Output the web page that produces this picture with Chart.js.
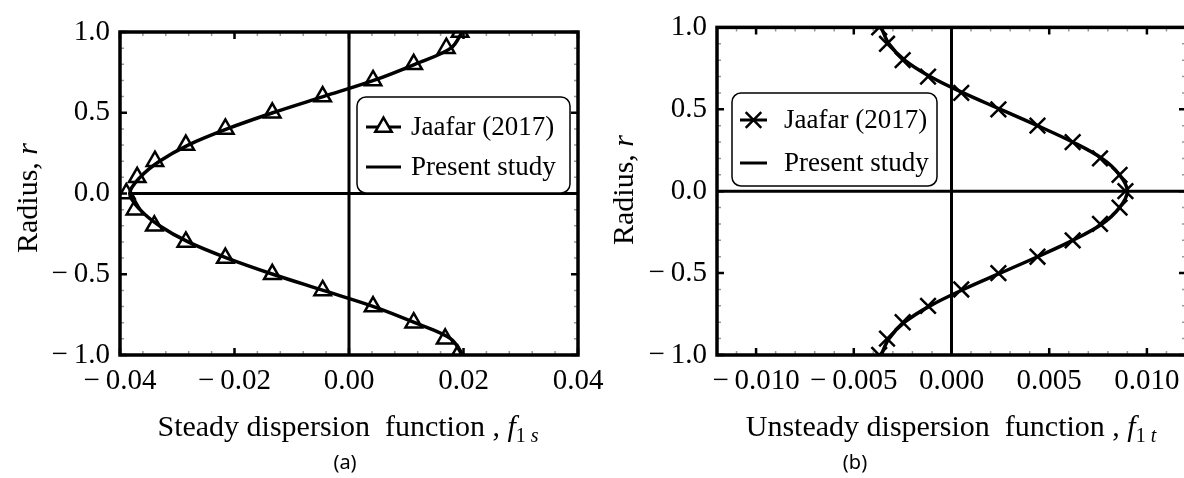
<!DOCTYPE html>
<html>
<head>
<meta charset="utf-8">
<script src="https://cdn.jsdelivr.net/npm/chart.js@4/dist/chart.umd.min.js"></script>
<style>
  html, body { margin:0; padding:0; background:#fff; }
  body { position:relative; width:1184px; height:478px; overflow:hidden; }
  canvas { position:absolute; top:0; }
  .ttl { position:absolute; font-family:'Liberation Serif', serif; font-size:30px; color:#000;
         white-space:pre; text-align:center; line-height:1; transform:translateX(-50%); }
  .ttl i { font-style:italic; }
  .sub { font-size:20px; position:relative; top:6px; }
  .yt { position:absolute; font-family:'Liberation Serif', serif; font-size:30px; color:#000;
        white-space:pre; transform:translate(-50%,-50%) rotate(-90deg); line-height:1; }
  .cap { position:absolute; font-family:'Noto Sans', sans-serif; font-size:20px; color:#000;
         transform:translateX(-50%); }
</style>
</head>
<body>
<canvas id="chartA" width="620" height="478" style="left:0"></canvas>
<canvas id="chartB" width="620" height="478" style="left:590px"></canvas>

<div class="yt" style="left:27px;top:198px">Radius, <i>r</i></div>
<div class="yt" style="left:623px;top:190px">Radius, <i>r</i></div>
<div class="ttl" style="left:348px;top:411px">Steady dispersion  function , <i>f</i><span class="sub">1 <i>s</i></span></div>
<div class="ttl" style="left:951px;top:411px">Unsteady dispersion  function , <i>f</i><span class="sub">1 <i>t</i></span></div>
<div class="cap" style="left:345px;top:448px">(a)</div>
<div class="cap" style="left:855px;top:448px">(b)</div>

<script>
// ── Data ──────────────────────────────────────────────────────
const radius   = [1.0, 0.9, 0.8, 0.7, 0.6, 0.5, 0.4, 0.3, 0.2, 0.1, 0.0,
                  -0.1, -0.2, -0.3, -0.4, -0.5, -0.6, -0.7, -0.8, -0.9, -1.0];

// (a) steady dispersion function f1s
const jaafarA  = [0.0194, 0.0170, 0.0113, 0.0042, -0.0046, -0.0134, -0.0216, -0.0285, -0.0339, -0.0370, -0.0389,
                  -0.0374, -0.0340, -0.0285, -0.0216, -0.0134, -0.0046, 0.0042, 0.0113, 0.0168, 0.0190];
const presentA = [0.0198, 0.0178, 0.0115, 0.0043, -0.0045, -0.0133, -0.0213, -0.0281, -0.0331, -0.0365, -0.0383,
                  -0.0365, -0.0331, -0.0281, -0.0213, -0.0133, -0.0045, 0.0043, 0.0115, 0.0178, 0.0198];

// (b) unsteady dispersion function f1t
const jaafarB  = [-0.0037, -0.0033, -0.0025, -0.0012, 0.0005, 0.0024, 0.0044, 0.0062, 0.0076, 0.0086, 0.0089,
                  0.0086, 0.0076, 0.0062, 0.0044, 0.0024, 0.0005, -0.0012, -0.0025, -0.0033, -0.0037];
const presentB = [-0.0036, -0.0032, -0.0024, -0.0011, 0.0006, 0.0025, 0.0044, 0.0062, 0.0077, 0.0086, 0.0090,
                  0.0086, 0.0077, 0.0062, 0.0044, 0.0025, 0.0006, -0.0011, -0.0024, -0.0032, -0.0036];

const yTicks   = [-1.0, -0.5, 0.0, 0.5, 1.0];
const xTicksA  = [-0.04, -0.02, 0.0, 0.02, 0.04];
const xTicksB  = [-0.010, -0.005, 0.0, 0.005, 0.010];
const legendLabels = ['Jaafar (2017)', 'Present study'];

Chart.defaults.font.family = "'Liberation Serif', serif";
Chart.defaults.color = '#000';

const fmt = d => v => (v < -1e-12 ? '\u2212\u2009' : '') + Math.abs(v).toFixed(d);
const pts = (xs) => xs.map((x, i) => ({ x, y: radius[i] }));

// ── Frame, zero lines, inward ticks, legend box ───────────────
const framePlugin = {
  id: 'frame',
  beforeDatasetsDraw(chart) {
    const { ctx, chartArea: a, scales: { x, y } } = chart;
    ctx.save();
    ctx.strokeStyle = '#000'; ctx.lineWidth = 3;
    ctx.beginPath();
    const x0 = x.getPixelForValue(0), y0 = y.getPixelForValue(0);
    ctx.moveTo(x0, a.top); ctx.lineTo(x0, a.bottom);
    ctx.moveTo(a.left, y0); ctx.lineTo(a.right, y0);
    ctx.stroke();
    ctx.restore();
  },
  afterDatasetsDraw(chart, args, o) {
    const { ctx, chartArea: a, scales: { x, y } } = chart;
    ctx.save();
    // minor ticks
    ctx.strokeStyle = '#999'; ctx.lineWidth = 1.5;
    ctx.beginPath();
    for (let v = x.min; v <= x.max + 1e-9; v += o.xMinor) {
      const px = x.getPixelForValue(v);
      ctx.moveTo(px, a.bottom); ctx.lineTo(px, a.bottom - 4);
      ctx.moveTo(px, a.top);    ctx.lineTo(px, a.top + 4);
    }
    for (let v = -1; v <= 1 + 1e-9; v += 0.1) {
      const py = y.getPixelForValue(v);
      ctx.moveTo(a.left, py);  ctx.lineTo(a.left + 4, py);
      ctx.moveTo(a.right, py); ctx.lineTo(a.right - 4, py);
    }
    ctx.stroke();
    // major ticks
    ctx.strokeStyle = '#000'; ctx.lineWidth = 2.5;
    ctx.beginPath();
    o.xMajor.forEach(v => {
      const px = x.getPixelForValue(v);
      ctx.moveTo(px, a.bottom); ctx.lineTo(px, a.bottom - 7);
      ctx.moveTo(px, a.top);    ctx.lineTo(px, a.top + 7);
    });
    yTicks.forEach(v => {
      const py = y.getPixelForValue(v);
      ctx.moveTo(a.left, py);  ctx.lineTo(a.left + 7, py);
      ctx.moveTo(a.right, py); ctx.lineTo(a.right - 7, py);
    });
    ctx.stroke();
    // frame
    ctx.lineWidth = 3.5;
    ctx.strokeRect(a.left, a.top, a.right - a.left, a.bottom - a.top);

    // legend
    const L = o.legend;
    ctx.fillStyle = '#fff'; ctx.strokeStyle = '#000'; ctx.lineWidth = 1.5;
    ctx.beginPath();
    ctx.roundRect(L.x, L.y, L.w, L.h, 9);
    ctx.fill(); ctx.stroke();
    ctx.font = "27px 'Liberation Serif', serif";
    ctx.textBaseline = 'middle';
    legendLabels.forEach((lab, i) => {
      const cy = L.rows[i];
      ctx.strokeStyle = '#000'; ctx.lineWidth = 3;
      ctx.beginPath(); ctx.moveTo(L.l1, cy); ctx.lineTo(L.l2, cy); ctx.stroke();
      if (i === 0) {
        ctx.fillStyle = '#fff'; ctx.lineWidth = 2.5;
        Chart.helpers.drawPoint(ctx, { pointStyle: o.marker, radius: o.markerR, borderWidth: 2.5, rotation: 0 },
                                (L.l1 + L.l2) / 2, cy);
      }
      ctx.fillStyle = '#000';
      ctx.fillText(lab, L.tx, cy + 1);
    });
    ctx.restore();
  }
};

function makeChart(id, cfg) {
  return new Chart(document.getElementById(id), {
    type: 'scatter',
    data: { datasets: [
      { label: legendLabels[1], data: pts(cfg.present), showLine: true, tension: 0.35,
        borderColor: '#000', borderWidth: 3.5, pointRadius: 0, order: 0 },
      { label: legendLabels[0], data: pts(cfg.jaafar), showLine: false,
        pointStyle: cfg.marker, pointRadius: cfg.markerR, pointBorderWidth: 2.5,
        pointBorderColor: '#000', pointBackgroundColor: cfg.marker === 'triangle' ? '#fff' : '#000', order: 1 }
    ]},
    options: {
      responsive: false, animation: false, devicePixelRatio: 1,
      layout: { padding: cfg.pad },
      plugins: {
        legend: { display: false }, tooltip: { enabled: false },
        frame: { legend: cfg.legend, xMinor: cfg.xMinor, xMajor: cfg.xTicks, marker: cfg.marker, markerR: cfg.markerR }
      },
      scales: {
        x: { type: 'linear', min: cfg.xMin, max: cfg.xMax,
             afterBuildTicks: s => { s.ticks = cfg.xTicks.map(v => ({ value: v })); },
             afterFit: s => { s.height = 45; },
             grid: { display: false, drawTicks: false }, border: { display: false },
             ticks: { font: { size: 29 }, color: '#000', padding: 9, maxRotation: 0, autoSkip: false,
                      callback: fmt(cfg.xDec) } },
        y: { type: 'linear', min: -1, max: 1,
             afterBuildTicks: s => { s.ticks = yTicks.map(v => ({ value: v })); },
             afterFit: s => { s.width = cfg.yW; },
             grid: { display: false, drawTicks: false }, border: { display: false },
             ticks: { font: { size: 29 }, color: '#000', padding: 10, callback: fmt(1) } }
      }
    },
    plugins: [framePlugin]
  });
}

makeChart('chartA', {
  jaafar: jaafarA, present: presentA, marker: 'triangle', markerR: 9.5,
  xMin: -0.04, xMax: 0.04, xTicks: xTicksA, xMinor: 0.004, xDec: 2, yW: 120,
  pad: { left: 0, right: 42, top: 32, bottom: 78 },
  legend: { x: 357, y: 97, w: 213, h: 96, rows: [127, 167], l1: 366, l2: 401, tx: 411 }
});

makeChart('chartB', {
  jaafar: jaafarB, present: presentB, marker: 'crossRot', markerR: 11,
  xMin: -0.012, xMax: 0.012, xTicks: xTicksB, xMinor: 0.001, xDec: 3, yW: 127,
  pad: { left: 0, right: 24, top: 24, bottom: 78 },
  legend: { x: 142, y: 93, w: 205, h: 93, rows: [120, 163], l1: 150, l2: 177, tx: 194 }
});
</script>
</body>
</html>
